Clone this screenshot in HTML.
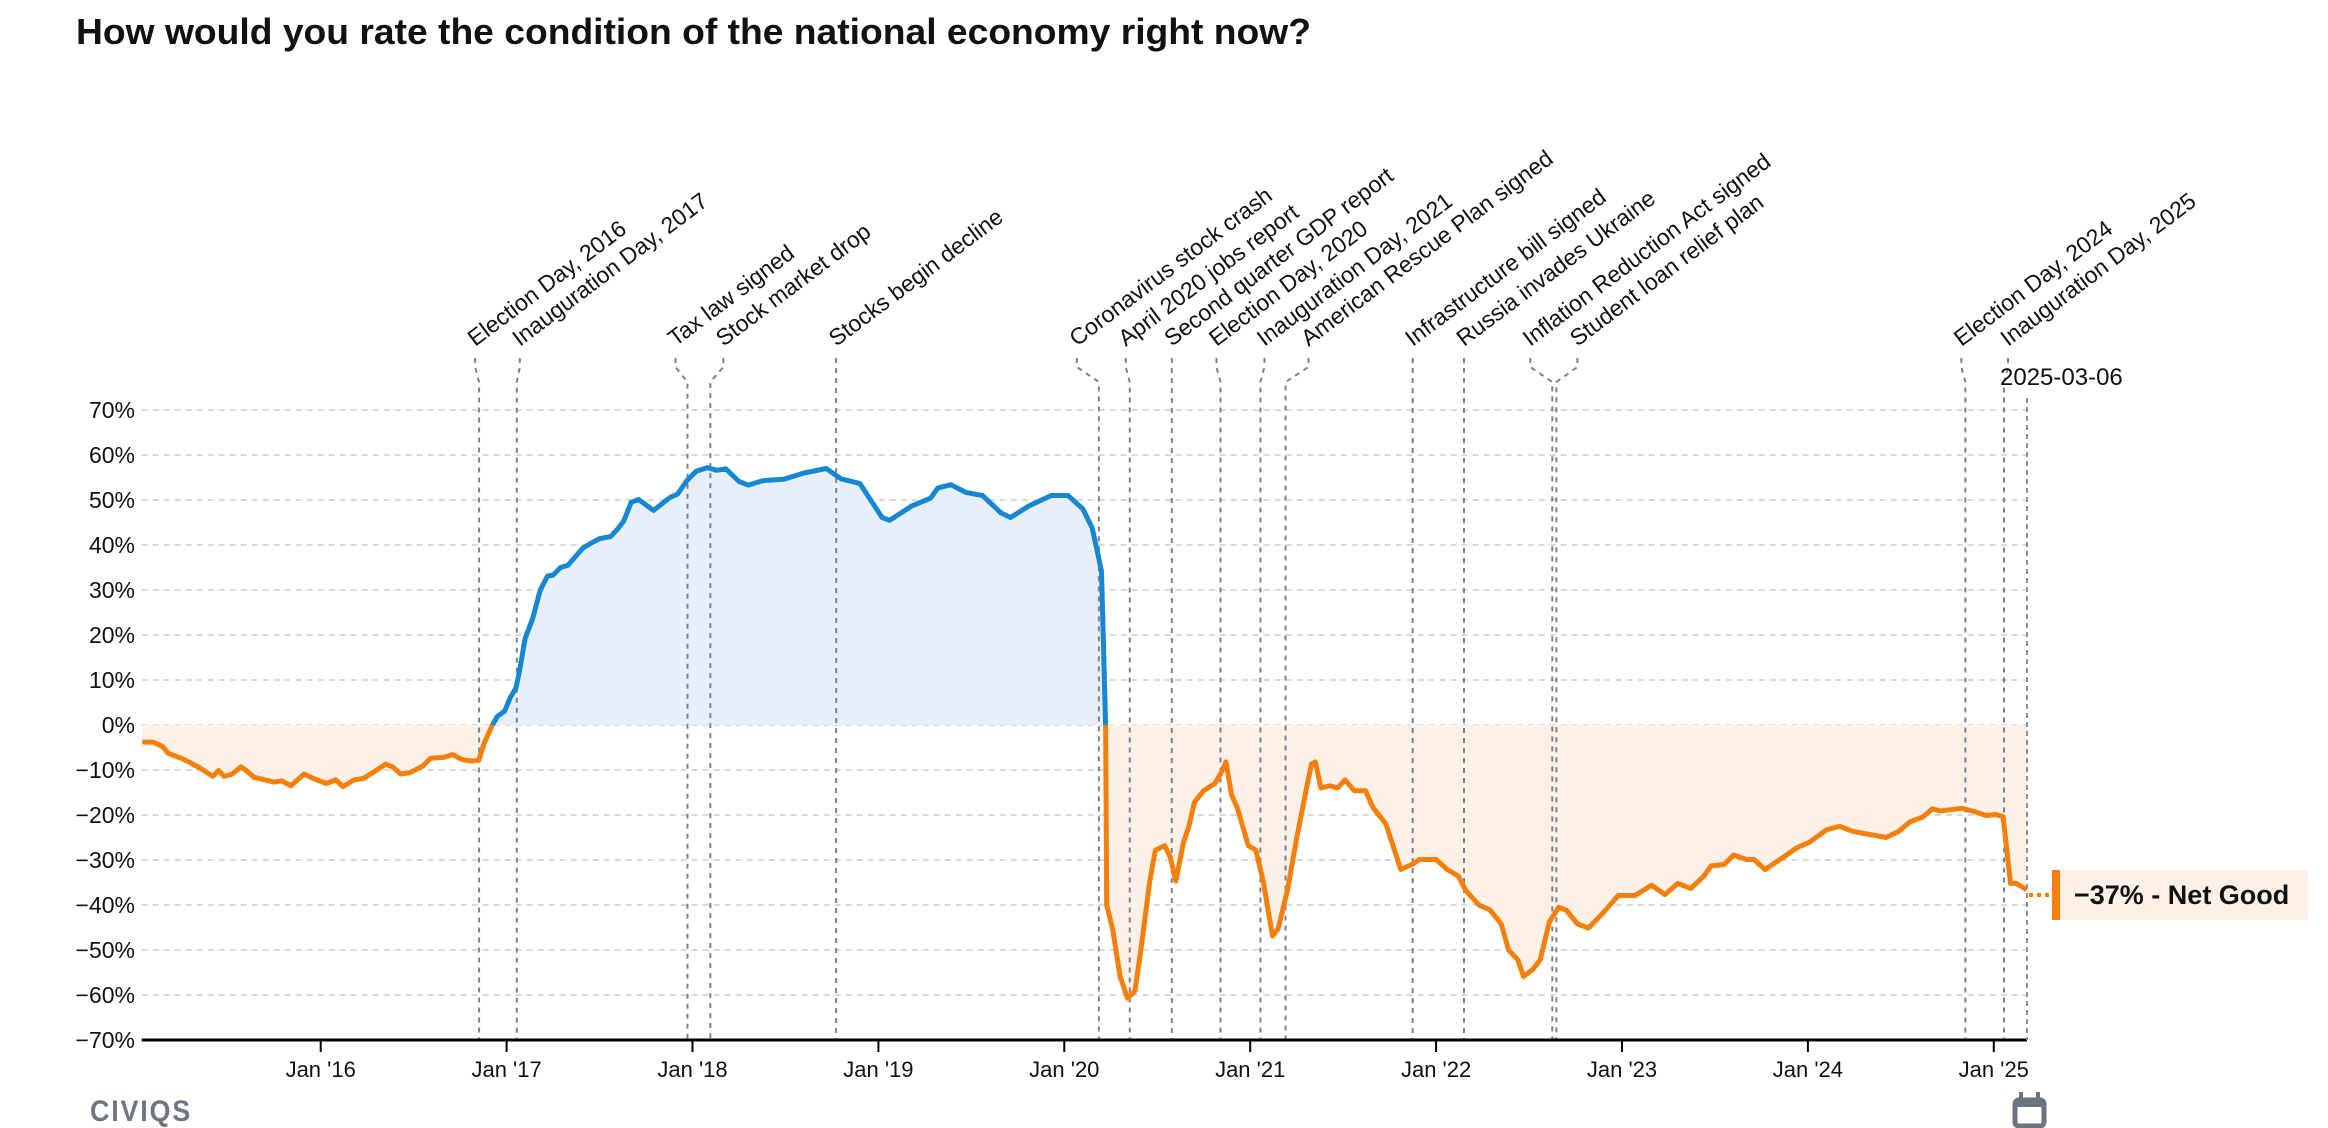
<!DOCTYPE html>
<html><head><meta charset="utf-8"><style>
html,body{margin:0;padding:0;background:#fff;}
svg{display:block;font-family:"Liberation Sans",sans-serif;}
</style></head><body>
<svg id="chart" width="2328" height="1128" viewBox="0 0 2328 1128" xmlns="http://www.w3.org/2000/svg">
<defs>
<clipPath id="clipPos"><rect x="0" y="0" width="2328" height="725"/></clipPath>
<clipPath id="clipNeg"><rect x="0" y="725" width="2328" height="403"/></clipPath>
</defs>
<text x="76" y="44" font-size="36" font-weight="bold" fill="#111" textLength="1235" lengthAdjust="spacingAndGlyphs">How would you rate the condition of the national economy right now?</text>
<g id="grid"></g>
<g id="areas"></g>
<g id="events"></g>
<g id="lines"></g>
<g id="axes"></g>
<line x1="2027" y1="398" x2="2027" y2="1040" stroke="#8a8f99" stroke-width="2" stroke-dasharray="5 4"/>
<text x="2000" y="385" font-size="24" fill="#111">2025-03-06</text>
<line x1="2029" y1="895" x2="2050" y2="895" stroke="#f57f0b" stroke-width="4" stroke-dasharray="4 4"/>
<rect x="2060" y="870" width="248" height="50" fill="#fdf0e6"/>
<rect x="2052" y="870" width="8" height="50" fill="#f57f0b"/>
<text x="2074" y="904" font-size="27" font-weight="bold" fill="#111">−37% - Net Good</text>
<text x="90" y="1121" font-size="30" font-weight="bold" fill="#6e7681" letter-spacing="2" textLength="102" lengthAdjust="spacingAndGlyphs">CIVIQS</text>
<g>
<rect x="2015" y="1100" width="29" height="26" rx="4" fill="none" stroke="#6b7280" stroke-width="5"/>
<rect x="2015" y="1100" width="29" height="7" fill="#6b7280"/>
<rect x="2019" y="1092" width="4" height="9" fill="#6b7280"/>
<rect x="2036" y="1092" width="4" height="9" fill="#6b7280"/>
</g>
</svg>
<script>
const years = [2015.04,2015.1,2015.15,2015.18,2015.25,2015.3,2015.36,2015.42,2015.45,2015.48,2015.52,2015.57,2015.6,2015.64,2015.7,2015.75,2015.79,2015.84,2015.91,2015.96,2016.03,2016.08,2016.12,2016.18,2016.23,2016.29,2016.35,2016.39,2016.43,2016.48,2016.55,2016.59,2016.66,2016.71,2016.76,2016.81,2016.85,2016.88,2016.92,2016.95,2016.99,2017.02,2017.05,2017.07,2017.1,2017.14,2017.18,2017.22,2017.25,2017.29,2017.33,2017.41,2017.45,2017.5,2017.56,2017.6,2017.63,2017.67,2017.71,2017.79,2017.88,2017.92,2017.97,2018.02,2018.08,2018.13,2018.18,2018.25,2018.3,2018.38,2018.49,2018.6,2018.72,2018.8,2018.9,2019.02,2019.06,2019.18,2019.28,2019.32,2019.39,2019.47,2019.56,2019.66,2019.71,2019.81,2019.93,2020.02,2020.1,2020.15,2020.2,2020.222,2020.228,2020.26,2020.3,2020.34,2020.38,2020.41,2020.46,2020.49,2020.54,2020.57,2020.6,2020.64,2020.67,2020.7,2020.75,2020.81,2020.84,2020.87,2020.9,2020.93,2020.99,2021.03,2021.07,2021.12,2021.15,2021.2,2021.25,2021.3,2021.33,2021.35,2021.38,2021.43,2021.47,2021.51,2021.56,2021.62,2021.66,2021.73,2021.78,2021.81,2021.87,2021.91,2022.0,2022.06,2022.12,2022.16,2022.23,2022.29,2022.35,2022.39,2022.44,2022.47,2022.52,2022.56,2022.61,2022.66,2022.7,2022.76,2022.82,2022.89,2022.98,2023.07,2023.16,2023.23,2023.3,2023.37,2023.44,2023.48,2023.55,2023.6,2023.67,2023.71,2023.77,2023.85,2023.94,2024.01,2024.1,2024.17,2024.24,2024.3,2024.37,2024.42,2024.49,2024.55,2024.62,2024.67,2024.71,2024.83,2024.9,2024.96,2025.01,2025.05,2025.09,2025.12,2025.178];
const netGood = [-3.8,-3.8,-4.8,-6.3,-7.4,-8.4,-9.8,-11.4,-10.1,-11.4,-11,-9.3,-10.1,-11.6,-12.2,-12.7,-12.4,-13.5,-10.9,-11.9,-13,-12.2,-13.7,-12.2,-11.9,-10.3,-8.7,-9.4,-10.9,-10.6,-9.1,-7.4,-7.2,-6.6,-7.7,-8,-7.9,-4,-0.3,1.9,3.1,6.1,8.2,12.1,19.3,23.6,29.9,33.1,33.3,35,35.5,39.3,40.3,41.4,41.9,43.7,45.3,49.5,50.1,47.7,50.6,51.3,54.3,56.4,57.2,56.6,56.9,54.1,53.3,54.3,54.6,56,57,54.7,53.7,46.1,45.5,48.7,50.4,52.7,53.4,51.7,51,47.1,46.1,48.7,51,51,48,43.8,34.2,0,-40,-45.3,-55.9,-60.7,-59.1,-50.6,-34.7,-27.8,-26.8,-29.4,-34.7,-26.3,-22.5,-17.2,-14.6,-13,-10.9,-8.2,-15.6,-18.3,-26.8,-27.8,-34.7,-46.9,-45.3,-36.8,-25.2,-14.6,-8.7,-8.2,-14,-13.5,-14,-12.2,-14.6,-14.6,-18.3,-22,-28.3,-32.1,-31,-29.9,-29.9,-32.1,-33.6,-36.8,-40,-41.1,-44.2,-50,-52.2,-55.9,-54.3,-52.2,-43.7,-40.5,-41.1,-44.2,-45.1,-42.1,-37.9,-37.9,-35.6,-37.7,-35.2,-36.3,-33.6,-31.3,-31,-28.9,-29.9,-29.9,-32.1,-29.9,-27.3,-26,-23.3,-22.5,-23.6,-24.1,-24.6,-25,-23.6,-21.5,-20.4,-18.6,-19.1,-18.5,-19.3,-20.1,-19.9,-20.4,-35.2,-35.2,-36.6];
const yTicks = [70,60,50,40,30,20,10,0,-10,-20,-30,-40,-50,-60,-70];
const xTickYears = [2016,2017,2018,2019,2020,2021,2022,2023,2024,2025];
const xTickLabels = ["Jan '16","Jan '17","Jan '18","Jan '19","Jan '20","Jan '21","Jan '22","Jan '23","Jan '24","Jan '25"];
const eventNames = ["Election Day, 2016","Inauguration Day, 2017","Tax law signed","Stock market drop","Stocks begin decline","Coronavirus stock crash","April 2020 jobs report","Second quarter GDP report","Election Day, 2020","Inauguration Day, 2021","American Rescue Plan signed","Infrastructure bill signed","Russia invades Ukraine","Inflation Reduction Act signed","Student loan relief plan","Election Day, 2024","Inauguration Day, 2025"];
const eventYears = [2016.852,2017.055,2017.973,2018.096,2018.773,2020.186,2020.352,2020.578,2020.84,2021.055,2021.19,2021.874,2022.15,2022.625,2022.647,2024.847,2025.055];
const eventShift = [-4,3,-12,13,0,-22,-4,0,-4,4,23,0,0,-22,21,-4,4];

const NS="http://www.w3.org/2000/svg";
const X0=141.7, X1=2027, Y0=1040, YT=410;
function xs(yr){return 320.7+(yr-2016)*185.9;}
function ys(v){return 725-v*4.5;}
function mk(tag,attrs,parent){const e=document.createElementNS(NS,tag);for(const k in attrs)e.setAttribute(k,attrs[k]);parent.appendChild(e);return e;}

const grid=document.getElementById('grid');
yTicks.forEach(v=>{
  if(v!==-70){
    const l=mk('line',{x1:X0,x2:X1,y1:ys(v),y2:ys(v),stroke:'#dadada','stroke-width':2,'stroke-dasharray':'6 5'},grid);
    
    
  }
  const t=mk('text',{x:135,y:ys(v)+8,'text-anchor':'end','font-size':23,fill:'#111'},grid);
  t.textContent=(v<0?'\u2212'+Math.abs(v):v)+'%';
  
  
});

const pts=years.map((y,i)=>[xs(y),ys(netGood[i])]);
const lineD='M'+pts.map(p=>p[0].toFixed(1)+','+p[1].toFixed(1)).join('L');
const areaD=lineD+'L'+pts[pts.length-1][0].toFixed(1)+','+ys(0)+'L'+pts[0][0].toFixed(1)+','+ys(0)+'Z';
const areas=document.getElementById('areas');
const aPos=mk('path',{d:areaD,fill:'#e7f0fa','clip-path':'url(#clipPos)'},areas);


const aNeg=mk('path',{d:areaD,fill:'#fdf0e6','clip-path':'url(#clipNeg)'},areas);



const lines=document.getElementById('lines');
const lPos=mk('path',{d:lineD,fill:'none',stroke:'#1787d2','stroke-width':5,'stroke-linejoin':'round','clip-path':'url(#clipPos)'},lines);


const lNeg=mk('path',{d:lineD,fill:'none',stroke:'#f57f0b','stroke-width':5,'stroke-linejoin':'round','clip-path':'url(#clipNeg)'},lines);



const ev=document.getElementById('events');
eventNames.forEach((n,i)=>{
  const x=xs(eventYears[i]), tx=x+eventShift[i];
  const p=mk('path',{d:`M${tx},358L${tx},367L${x},382L${x},${Y0}`,fill:'none',stroke:'#7d828c','stroke-width':2,'stroke-dasharray':'5 5'},ev);
  
  
  const t=mk('text',{x:tx,y:347,'font-size':23,fill:'#111',transform:`rotate(-37 ${tx} 347)`},ev);
  t.textContent=n;
  
  
});

const ax=document.getElementById('axes');
const base=mk('line',{x1:X0,x2:X1,y1:Y0,y2:Y0,stroke:'#000','stroke-width':3},ax);


xTickYears.forEach((yr,i)=>{
  const x=xs(yr);
  const tk=mk('line',{x1:x,x2:x,y1:Y0,y2:Y0+12,stroke:'#000','stroke-width':2},ax);
  
  
  const t=mk('text',{x:x,y:1077,'text-anchor':'middle','font-size':22,fill:'#111'},ax);
  t.textContent=xTickLabels[i];
  
  
});
</script>
</body></html>
